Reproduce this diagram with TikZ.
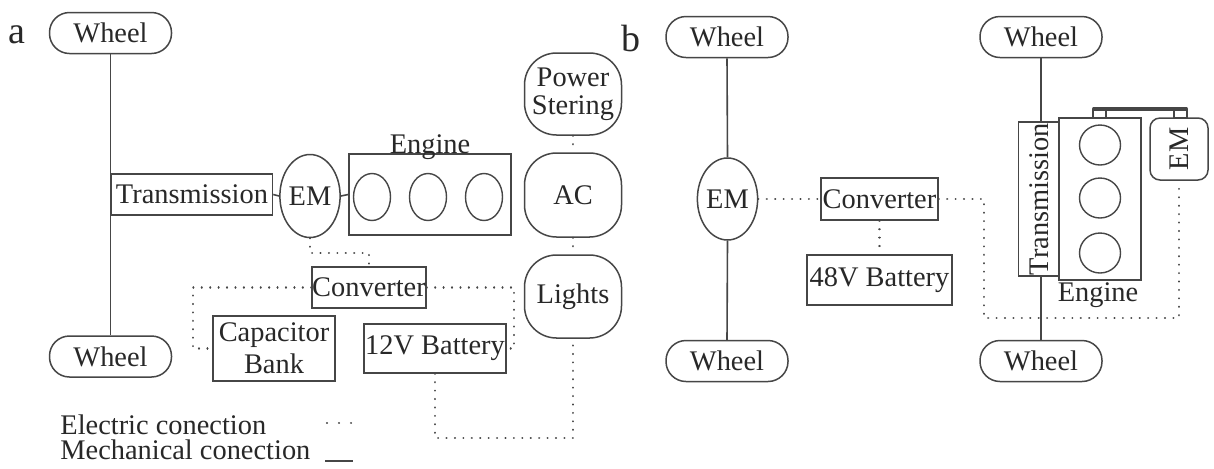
\documentclass[tikz,border=0pt]{standalone}
\usepackage{fontspec}
\setmainfont{Liberation Serif}
\usetikzlibrary{shapes.geometric}
\definecolor{lc}{RGB}{70,70,70}
\definecolor{tc}{RGB}{40,40,40}
\newcommand{\fs}{\fontsize{14.2}{14}\selectfont}
\newcommand{\fl}{\fontsize{19}{22}\selectfont}
\tikzset{
  base/.style={draw=lc, line width=0.75pt, text=tc, inner sep=0pt, font=\fs},
  wheel/.style={base, rounded corners=10pt, minimum width=61pt, minimum height=20.5pt},
  box/.style={base, rectangle},
  blob/.style={base, rounded corners=16pt, minimum width=48.5pt, align=center},
  emell/.style={base, ellipse},
  ring/.style={draw=lc, line width=0.7pt, ellipse, inner sep=0pt},
  txt/.style={text=tc, inner sep=0pt, font=\fs},
  lab/.style={text=tc, inner sep=0pt, font=\fl},
  mech/.style={draw=lc, line width=0.8pt},
  elec/.style={draw=lc, line width=1.1pt, dash pattern=on 0.01pt off 4.2pt, line cap=round},
  elecl/.style={draw=lc, line width=1.1pt, dash pattern=on 0.01pt off 6pt, line cap=round},
}
\begin{document}
\begin{tikzpicture}[x=0.5pt,y=-0.5pt]
\fill[white] (0,0) rectangle (1214,468);
\useasboundingbox (0,0) rectangle (1214,468);

% ---------------- panel a ----------------
\node[lab] (la) at (17,35) {a};
\node[wheel] (wa1) at (110.5,33) {Wheel};
\node[wheel] (wa2) at (110.5,356.5) {Wheel};
\node[box, minimum width=80.5pt, minimum height=20.5pt] (tr) at (192,194.5) {Transmission};
\node[emell, minimum width=26pt, minimum height=41.5pt] (ema) at (310,196) {EM};
\node[box, minimum width=81pt, minimum height=40.5pt] (eng) at (430,194.5) {};
\node[txt, anchor=base] (engl) at (430,153) {Engine};
\node[ring, minimum width=18.5pt, minimum height=23.5pt] (ca1) at (372,197) {};
\node[ring, minimum width=18.5pt, minimum height=23.5pt] (ca2) at (428,197) {};
\node[ring, minimum width=18.5pt, minimum height=23.5pt] (ca3) at (484,197) {};
\node[blob, minimum height=41pt] (ps) at (573,94) {Power\\Stering};
\node[blob, minimum height=42pt] (ac) at (573,195) {AC};
\node[blob, minimum height=41.5pt] (li) at (573,296.5) {Lights};
\node[box, minimum width=57pt, minimum height=20.5pt] (conv) at (369,287.5) {Converter};
\node[box, minimum width=61pt, minimum height=32.5pt, align=center, font=\fontsize{14.2}{16}\selectfont] (cap) at (274,348.5) {Capacitor\\Bank};
\node[box, minimum width=71pt, minimum height=24.5pt] (bat12) at (435,348.5) {12V Battery};

\coordinate (ka) at (193,348.5);
\coordinate (kb) at (514,348.5);
\coordinate (kc) at (573,438);
\coordinate (kd) at (310,253);

\draw[mech] (wa1.south) -- (wa2.north);
\draw[mech] (tr.east) -- (ema.west);
\draw[mech] (ema.east) -- (eng.west);

\draw[elec] (ema.south) -- (kd) -| (conv.north);
\draw[elec] (conv.west) -| (ka) -- (cap.west);
\draw[elec] (conv.east) -| (kb) -- (bat12.east);
\draw[elec] (ps.south) -- (ac.north);
\draw[elec] (ac.south) -- (li.north);
\draw[elec] (bat12.south) |- (kc) -- (li.south);

% legend
\node[txt, anchor=base west] (le) at (60,434) {Electric conection};
\node[txt, anchor=base west] (lm) at (60,459) {Mechanical conection};
\coordinate (e1) at (327,423);
\coordinate (e2) at (352,423);
\coordinate (m1) at (325,461);
\coordinate (m2) at (353,461);
\draw[elecl] (e1) -- (e2);
\draw[mech] (m1) -- (m2);

% ---------------- panel b ----------------
\node[lab] (lb) at (631,38) {b};
\node[wheel] (wb1) at (727,37) {Wheel};
\node[wheel] (wb2) at (727,361) {Wheel};
\node[emell, minimum width=28.5pt, minimum height=41pt] (emb) at (727.5,199) {EM};
\node[box, minimum width=58.5pt, minimum height=21pt] (convb) at (879.5,199) {Converter};
\node[box, minimum width=72.5pt, minimum height=25pt] (bat48) at (879.5,280) {48V Battery};

\node[wheel] (wb3) at (1041,37) {Wheel};
\node[wheel] (wb4) at (1041,361) {Wheel};
\node[box, rotate=90, minimum width=77pt, minimum height=20.5pt] (trb) at (1039,199) {Transmission};
\node[box, minimum width=41pt, minimum height=81pt] (engb) at (1100,199) {};
\node[ring, minimum width=20.5pt, minimum height=20pt] (cb1) at (1100,145) {};
\node[ring, minimum width=20.5pt, minimum height=20pt] (cb2) at (1100,198) {};
\node[ring, minimum width=20.5pt, minimum height=20pt] (cb3) at (1100,253) {};
\node[txt, anchor=base] (engbl) at (1098,301) {Engine};
\node[base, rounded corners=5pt, rotate=90, minimum width=31pt, minimum height=29pt] (emb2) at (1179,149) {EM};

% belt
\draw[mech] (1093,118) rectangle (1106,110);
\draw[mech] (1174,118) rectangle (1187,110);
\draw[draw=lc, line width=2pt, line cap=round] (1094,108.5) -- (1186,108.5);

\coordinate (kbb) at (984,318);

\draw[mech] (wb1.south) -- (emb.north);
\draw[mech] (emb.south) -- (wb2.north);
\draw[mech] (wb3.south) -- (wb3.south |- trb.east);
\draw[mech] (wb4.north |- trb.west) -- (wb4.north);

\draw[elec] (emb.east) -- (convb.west);
\draw[elec] (convb.south) -- (bat48.north);
\draw[elec] (convb.east) -| (kbb) -| (emb2.west);
\end{tikzpicture}
\end{document}
